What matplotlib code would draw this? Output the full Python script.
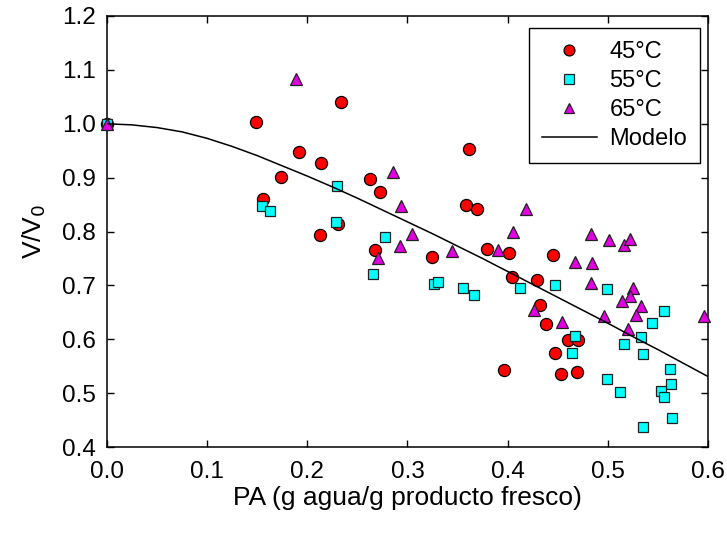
import matplotlib
matplotlib.use('Agg')
import matplotlib.pyplot as plt

plt.rcParams['font.family'] = ['Liberation Sans', 'DejaVu Sans']

# 45 C
x45 = [0.0, 0.149, 0.156, 0.174, 0.192, 0.214, 0.213, 0.234, 0.231, 0.263, 0.273,
       0.268, 0.324, 0.361, 0.358, 0.369, 0.379, 0.401, 0.404, 0.429, 0.445, 0.432,
       0.438, 0.396, 0.447, 0.453, 0.460, 0.470, 0.469]
y45 = [1.000, 1.003, 0.860, 0.901, 0.948, 0.927, 0.794, 1.040, 0.815, 0.898, 0.874,
       0.766, 0.753, 0.953, 0.850, 0.842, 0.768, 0.761, 0.715, 0.711, 0.756, 0.663,
       0.629, 0.544, 0.574, 0.535, 0.599, 0.599, 0.539]

# 55 C
x55 = [0.0, 0.155, 0.163, 0.230, 0.229, 0.278, 0.266, 0.326, 0.330, 0.355, 0.366,
       0.412, 0.447, 0.499, 0.556, 0.544, 0.467, 0.533, 0.516, 0.535, 0.464, 0.562,
       0.499, 0.563, 0.553, 0.512, 0.556, 0.564, 0.535]
y55 = [1.000, 0.848, 0.839, 0.884, 0.818, 0.790, 0.721, 0.702, 0.707, 0.696, 0.683,
       0.696, 0.701, 0.694, 0.653, 0.630, 0.606, 0.604, 0.591, 0.572, 0.574, 0.545,
       0.527, 0.517, 0.505, 0.502, 0.493, 0.454, 0.438]

# 65 C
x65 = [0.0, 0.189, 0.286, 0.294, 0.305, 0.293, 0.271, 0.344, 0.418, 0.405, 0.390,
       0.467, 0.426, 0.454, 0.483, 0.501, 0.516, 0.522, 0.484, 0.483, 0.525, 0.522,
       0.514, 0.533, 0.528, 0.596, 0.496, 0.520]
y65 = [1.000, 1.083, 0.911, 0.848, 0.795, 0.774, 0.751, 0.764, 0.842, 0.799, 0.765,
       0.743, 0.654, 0.633, 0.795, 0.784, 0.776, 0.786, 0.742, 0.705, 0.695, 0.681,
       0.671, 0.662, 0.646, 0.643, 0.643, 0.620]

# Modelo
xm = [0.000, 0.025, 0.050, 0.075, 0.100, 0.125, 0.150, 0.175, 0.200, 0.225, 0.250,
      0.275, 0.300, 0.325, 0.350, 0.375, 0.400, 0.425, 0.450, 0.475, 0.500, 0.525,
      0.550, 0.575, 0.600]
ym = [1.000, 0.998, 0.993, 0.985, 0.973, 0.958, 0.941, 0.922, 0.903, 0.883, 0.862,
      0.840, 0.818, 0.796, 0.773, 0.750, 0.726, 0.702, 0.678, 0.654, 0.630, 0.605,
      0.581, 0.556, 0.531]

xticks = [0.0, 0.1, 0.2, 0.3, 0.4, 0.5, 0.6]
yticks = [0.4, 0.5, 0.6, 0.7, 0.8, 0.9, 1.0, 1.1, 1.2]

fig, ax = plt.subplots(figsize=(7.27, 5.33), dpi=100)
fig.subplots_adjust(left=0.147, right=0.974, top=0.970, bottom=0.161)

ax.plot(x45, y45, 'o', color='#ff0000', mec='black', mew=0.9, ms=8.7,
        label='45°C', clip_on=False, zorder=3)
ax.plot(x55, y55, 's', color='#00ffff', mec='#202020', mew=0.9, ms=7.8,
        label='55°C', clip_on=False, zorder=4)
ax.plot(x65, y65, '^', color='#e000e0', mec='#202020', mew=0.9, ms=8.7,
        label='65°C', clip_on=False, zorder=5)
ax.plot(xm, ym, '-', color='black', lw=1.1, label='Modelo', zorder=6)

ax.set_xlim(0, 0.6)
ax.set_ylim(0.4, 1.2)
ax.set_xticks(xticks)
ax.set_yticks(yticks)
ax.set_xticklabels(['%.1f' % t for t in xticks])
ax.set_yticklabels(['%.1f' % t for t in yticks])
ax.tick_params(direction='in', length=5, width=1, top=True, right=True,
               labelsize=17.5, pad=8)
ax.tick_params(axis='x', pad=10)
for s in ax.spines.values():
    s.set_linewidth(1.1)

ax.set_xlabel('PA (g agua/g producto fresco)', fontsize=19, labelpad=2)
ax.set_ylabel('V/V$_0$', fontsize=19, labelpad=10)

leg = ax.legend(loc='upper right', bbox_to_anchor=(0.987, 0.972), borderaxespad=0,
                fontsize=17, frameon=True, fancybox=False, edgecolor='black',
                framealpha=1, markerscale=0.9, handlelength=2.3,
                handletextpad=0.55, borderpad=0.55, labelspacing=0.3)
leg.get_frame().set_linewidth(1.0)

fig.savefig('out.png', dpi=100)
